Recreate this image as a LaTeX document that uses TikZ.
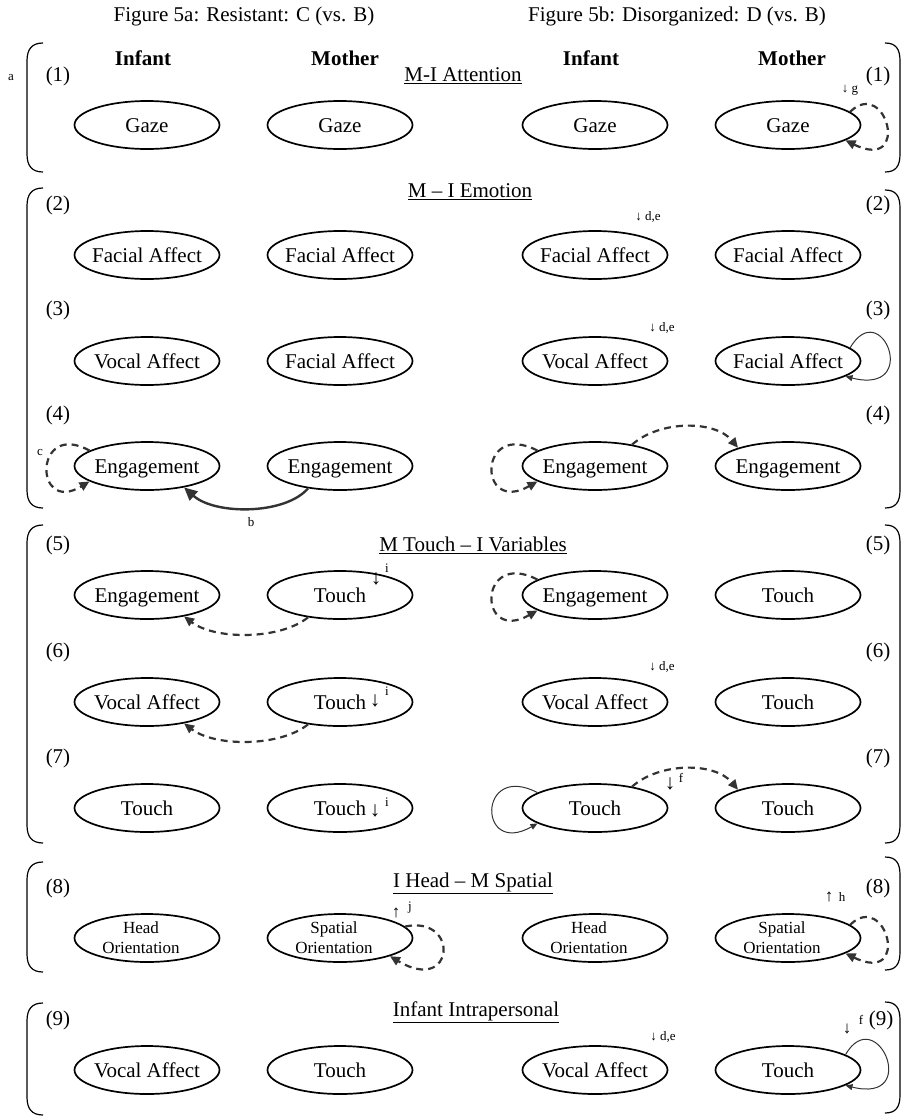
\documentclass[tikz,border=0pt]{standalone}
\usepackage{fontspec}
\setmainfont{Liberation Serif}
\usetikzlibrary{shapes.geometric,arrows.meta}
\newcommand\mylbr[2]{\draw[brk] (43,#1) .. controls (32,#1) and (27,#1+6) .. (27,#1+18) -- (27,#2-18) .. controls (27,#2-6) and (32,#2) .. (43,#2);}
\newcommand\myrbr[2]{\draw[brk] (885,#1) .. controls (896,#1) and (900,#1+6) .. (900,#1+18) -- (900,#2-18) .. controls (900,#2-6) and (896,#2) .. (885,#2);}
\begin{document}
\begin{tikzpicture}[x=1pt,y=-1pt,
  ell/.style={ellipse, draw, line width=1.7pt, minimum width=145pt, minimum height=48pt, inner sep=0pt, text height=17pt, text depth=3pt, font=\fontsize{21}{24}\selectfont},
  two/.style={align=center, inner sep=0pt, font=\fontsize{17}{20}\selectfont},
  big/.style={font=\fontsize{21}{24}\selectfont, inner sep=0pt},
  mid/.style={font=\fontsize{17}{20}\selectfont, inner sep=0pt},
  hdr/.style={font=\fontsize{21}{24}\selectfont\bfseries, inner sep=0pt},
  small/.style={font=\fontsize{13}{15}\selectfont, inner sep=0pt},
  dl/.style={draw=black!80, line width=2.2pt, dash pattern=on 7pt off 5pt, -{Triangle[length=10pt,width=9pt]}},
  sl/.style={draw=black!80, line width=1pt, -{Triangle[length=7pt,width=6pt]}},
  bl/.style={draw=black!80, line width=2.4pt, -{Triangle[length=13pt,width=12pt]}},
  brk/.style={draw, line width=1.2pt},
]
\useasboundingbox (0,0) rectangle (905,1117);

% titles and headers
\node[big] (t1) at (244,16) {Figure 5a: Resistant: C (vs. B)};
\node[big] (t2) at (677,16) {Figure 5b: Disorganized: D (vs. B)};
\node[hdr] (h1) at (143,58) {Infant};
\node[hdr] (h2) at (345,58) {Mother};
\node[hdr] (h3) at (591,58) {Infant};
\node[hdr] (h4) at (792,58) {Mother};
\node[small] (la) at (11,78) {a};

% brackets
\mylbr{43}{172}
\mylbr{188}{508}
\mylbr{525}{843}
\mylbr{862}{972}
\mylbr{1003}{1115}
\myrbr{43}{172}
\myrbr{190}{508}
\myrbr{525}{843}
\myrbr{857}{970}
\myrbr{1002}{1113}

% section titles
\node[big] (s1) at (463,76) {\underline{M-I Attention}};
\node[big] (s2) at (470,192) {\underline{M -- I Emotion}};
\node[big] (s3) at (473,545) {\underline{M Touch -- I Variables}};
\node[big] (s4) at (473,883) {\underline{I Head -- M Spatial}};
\node[big] (s5) at (476,1012) {\underline{Infant Intrapersonal}};

% row labels
\foreach \n/\y in {1/76,2/205,3/310,4/415,5/545,6/652,7/758,8/888}{
  \node[big] (nl\n) at (58,\y) {(\n)};
  \node[big] (nr\n) at (878,\y) {(\n)};
}
\node[big] (nl9) at (58,1020) {(9)};
\node[big] (nr9) at (881,1020) {(9)};

% row 1
\node[ell] (a1) at (147,125) {\makebox[0pt]{Gaze}};
\node[ell] (b1) at (340,125) {\makebox[0pt]{Gaze}};
\node[ell] (c1) at (595,125) {\makebox[0pt]{Gaze}};
\node[ell] (d1) at (788,125) {\makebox[0pt]{Gaze}};
% row 2
\node[ell] (a2) at (147,255) {\makebox[0pt]{Facial Affect}};
\node[ell] (b2) at (340,255) {\makebox[0pt]{Facial Affect}};
\node[ell] (c2) at (595,255) {\makebox[0pt]{Facial Affect}};
\node[ell] (d2) at (788,255) {\makebox[0pt]{Facial Affect}};
% row 3
\node[ell] (a3) at (147,361) {\makebox[0pt]{Vocal Affect}};
\node[ell] (b3) at (340,361) {\makebox[0pt]{Facial Affect}};
\node[ell] (c3) at (595,361) {\makebox[0pt]{Vocal Affect}};
\node[ell] (d3) at (788,361) {\makebox[0pt]{Facial Affect}};
% row 4
\node[ell] (a4) at (147,466) {\makebox[0pt]{Engagement}};
\node[ell] (b4) at (340,466) {\makebox[0pt]{Engagement}};
\node[ell] (c4) at (595,466) {\makebox[0pt]{Engagement}};
\node[ell] (d4) at (788,466) {\makebox[0pt]{Engagement}};
% row 5
\node[ell] (a5) at (147,595) {\makebox[0pt]{Engagement}};
\node[ell] (b5) at (340,595) {\makebox[0pt]{Touch}};
\node[ell] (c5) at (595,595) {\makebox[0pt]{Engagement}};
\node[ell] (d5) at (788,595) {\makebox[0pt]{Touch}};
% row 6
\node[ell] (a6) at (147,702) {\makebox[0pt]{Vocal Affect}};
\node[ell] (b6) at (340,702) {\makebox[0pt]{Touch}};
\node[ell] (c6) at (595,702) {\makebox[0pt]{Vocal Affect}};
\node[ell] (d6) at (788,702) {\makebox[0pt]{Touch}};
% row 7
\node[ell] (a7) at (147,808) {\makebox[0pt]{Touch}};
\node[ell] (b7) at (340,808) {\makebox[0pt]{Touch}};
\node[ell] (c7) at (595,808) {\makebox[0pt]{Touch}};
\node[ell] (d7) at (788,808) {\makebox[0pt]{Touch}};
% row 8
\node[ell, label={[two,xshift=-6pt]center:{Head\\Orientation}}] (a8) at (147,938) {};
\node[ell, label={[two,xshift=-6pt]center:{Spatial\\Orientation}}] (b8) at (340,938) {};
\node[ell, label={[two,xshift=-6pt]center:{Head\\Orientation}}] (c8) at (595,938) {};
\node[ell, label={[two,xshift=-6pt]center:{Spatial\\Orientation}}] (d8) at (788,938) {};
% row 9
\node[ell] (a9) at (147,1070) {\makebox[0pt]{Vocal Affect}};
\node[ell] (b9) at (340,1070) {\makebox[0pt]{Touch}};
\node[ell] (c9) at (595,1070) {\makebox[0pt]{Vocal Affect}};
\node[ell] (d9) at (788,1070) {\makebox[0pt]{Touch}};

% annotations
\node[small] (ng) at (850,90) {↓ g};
\node[small] (nde2) at (648,217) {↓ d,e};
\node[small] (nde3) at (662,328) {↓ d,e};
\node[small] (nde6) at (662,667) {↓ d,e};
\node[small] (nde9) at (663,1037) {↓ d,e};
\node[small] (nc) at (40,452) {c};
\node[small] (nb) at (251,522) {b};
\node[big] (ar5) at (376,579) {↓};
\node[small] (ni5) at (387,568) {i};
\node[big] (ar6) at (375,701) {↓};
\node[small] (ni6) at (387,691) {i};
\node[big] (ar7) at (375,811) {↓};
\node[small] (ni7) at (387,802) {i};
\node[big] (arf) at (670,784) {↓};
\node[small] (nf7) at (681,778) {f};
\node[mid] (arj) at (396,913) {↑};
\node[small] (nj) at (410,908) {j};
\node[mid] (arh) at (829,897) {↑};
\node[small] (nh) at (842,897) {h};
\node[mid] (ar9) at (847,1029) {↓};
\node[small] (nf9) at (861,1020) {f};

% connectors
\draw[dl] (d1.12) .. controls +(36,-35) and +(66,32) .. (d1.-15);
\draw[sl] (d3.12) .. controls +(31,-53) and +(76,19) .. (d3.-15);
\draw[dl] (a4.165) .. controls +(-56,-31) and +(-56,34) .. (a4.195);
\draw[bl] (b4.215) .. controls (285,515) and (215,515) .. (a4.-30);
\draw[dl] (c4.165) .. controls +(-60,-31) and +(-60,34) .. (c4.195);
\draw[dl] (c4.30) .. controls (660,420) and (715,420) .. (d4.160);
\draw[dl] (b5.215) .. controls (280,640) and (215,640) .. (a5.-30);
\draw[dl] (c5.165) .. controls +(-60,-31) and +(-60,34) .. (c5.195);
\draw[dl] (b6.215) .. controls (280,747) and (215,747) .. (a6.-30);
\draw[sl] (c7.165) .. controls +(-60,-31) and +(-60,34) .. (c7.195);
\draw[dl] (c7.30) .. controls (660,762) and (715,762) .. (d7.160);
\draw[dl] (b8.10) .. controls (460,915) and (455,995) .. (b8.-20);
\draw[dl] (d8.12) .. controls +(36,-35) and +(66,32) .. (d8.-15);
\draw[sl] (d9.15) .. controls +(31,-53) and +(76,19) .. (d9.-15);
\end{tikzpicture}
\end{document}
